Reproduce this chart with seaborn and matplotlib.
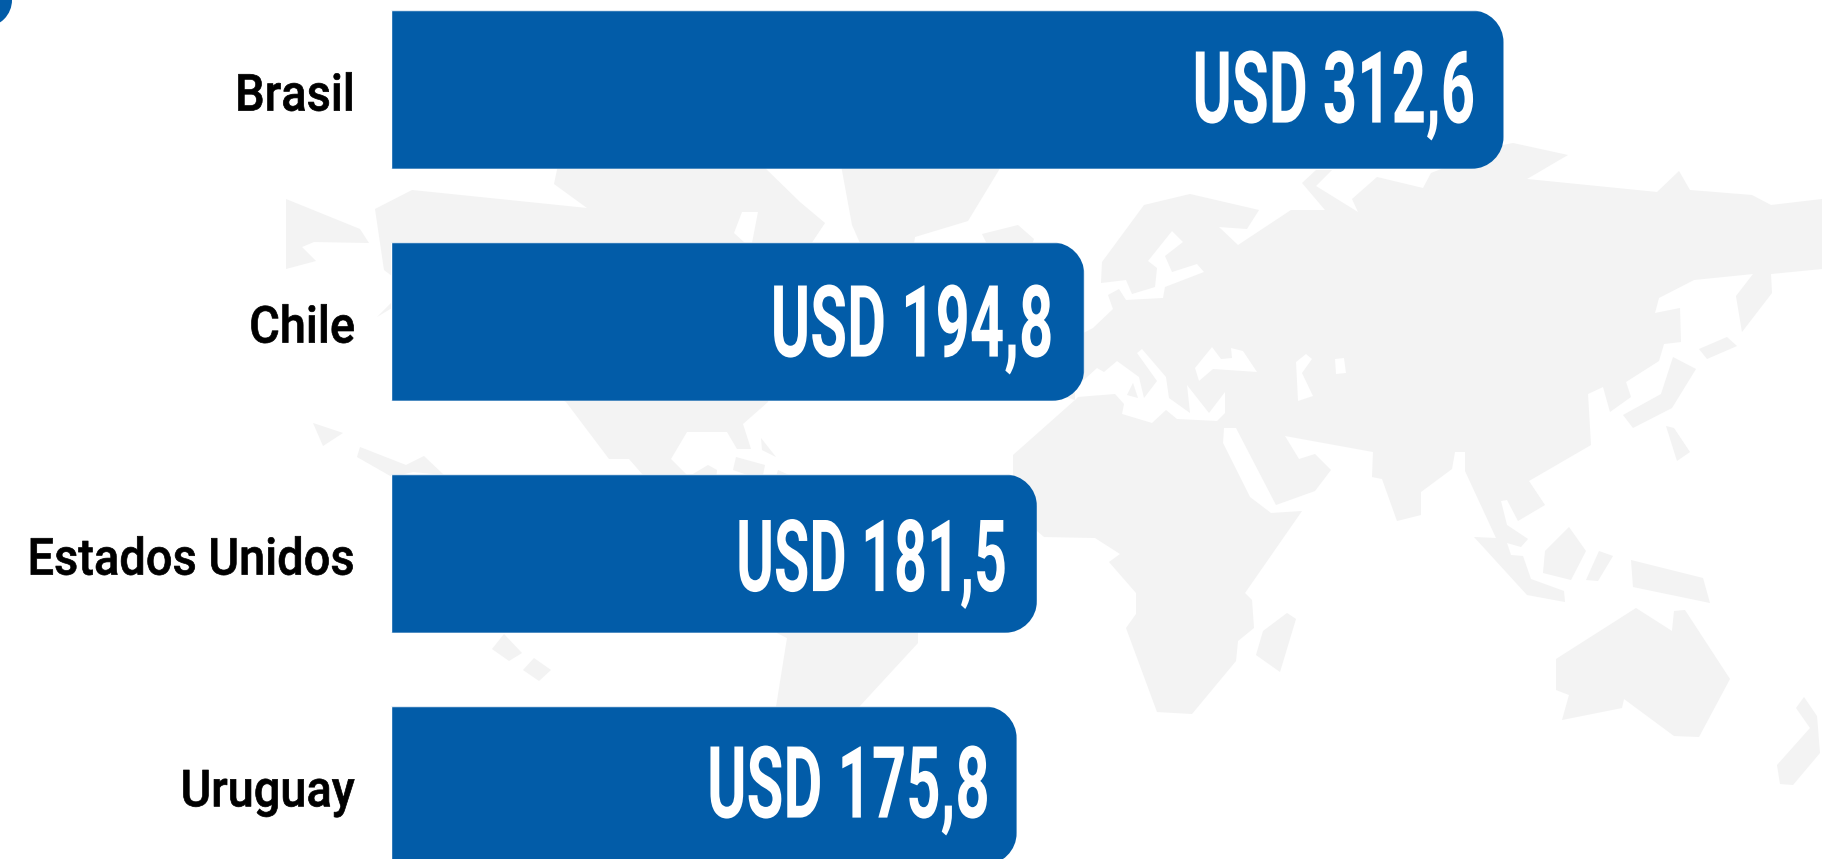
import matplotlib
matplotlib.use('Agg')
import matplotlib.pyplot as plt
import matplotlib.patheffects as pe
import pandas as pd
import seaborn as sns
from matplotlib.patches import Ellipse, Polygon
from matplotlib.path import Path
from matplotlib.transforms import Affine2D

# values
countries = ['Brasil', 'Chile', 'Estados Unidos', 'Uruguay']
values = [312.6, 194.8, 181.5, 175.8]

BLUE = '#025ca8'
MAP_GREY = '#f3f3f3'
W, H = 1836, 859
BAR_LEFT = 391
PX_PER_USD = 3.559
PX_PER_CAT = 232
FIRST_CENTER = 89.6
CORNER = 32

# label placement inside each bar, image pixels
label_right_gap = [28.6, 31, 30, 27]
label_drop = [33, 35, 37.5, 32]
label_squeeze = [0.60, 0.60, 0.575, 0.60]

# background world map, in image pixels
map_land = [
    # alaska
    [(286, 199), (360, 229), (369, 243), (314, 242), (302, 247), (316, 261), (286, 269)],
    # north america
    [(375, 209), (412, 190), (587, 208), (554, 184), (558, 165), (762, 165), (800, 202), (825, 223),
     (807, 250), (768, 402), (743, 424), (751, 449), (737, 449), (727, 432), (687, 432), (671, 459),
     (687, 475), (693, 474), (708, 465), (717, 470), (716, 480), (650, 480), (643, 475), (629, 459),
     (609, 459), (566, 402), (400, 300), (392, 276), (384, 270)],
    # greenland, iceland
    [(841, 165), (1002, 165), (968, 221), (915, 237), (913, 250), (863, 250), (852, 225)],
    [(982, 234), (1018, 225), (1034, 239), (1030, 250), (990, 250)],
    # pacific and caribbean islands
    [(377, 317), (392, 302), (392, 308)],
    [(313, 423), (343, 433), (323, 446)],
    [(360, 447), (406, 465), (424, 456), (444, 475), (413, 472), (392, 477), (357, 457)],
    [(504, 634), (522, 653), (509, 661), (492, 649)],
    [(534, 658), (551, 670), (539, 681), (523, 670)],
    [(761, 438), (776, 457), (762, 450)],
    [(736, 457), (765, 465), (762, 480), (733, 470)],
    # south america
    [(775, 480), (778, 470), (800, 480), (918, 600), (918, 643), (859, 707), (800, 760), (776, 707),
     (787, 638), (777, 633)],
    # eurasia and africa
    [(1093, 328), (1113, 309), (1108, 295), (1119, 289), (1126, 300), (1163, 298), (1165, 287),
     (1204, 272), (1197, 264), (1172, 272), (1165, 256), (1183, 242), (1172, 231), (1148, 261),
     (1157, 268), (1155, 287), (1132, 294), (1126, 280), (1101, 283), (1102, 262), (1144, 205),
     (1190, 194), (1259, 210), (1247, 229), (1219, 227), (1238, 245), (1291, 210), (1325, 210),
     (1302, 183), (1316, 170), (1332, 170), (1316, 186), (1358, 212), (1352, 199), (1377, 177),
     (1423, 188), (1431, 173), (1503, 145), (1513, 143), (1568, 155), (1527, 179), (1657, 192),
     (1679, 171), (1690, 190), (1752, 195), (1771, 205), (1822, 199), (1822, 269), (1771, 274),
     (1772, 293), (1742, 332), (1736, 296), (1753, 274), (1694, 280), (1659, 298), (1655, 313),
     (1680, 308), (1681, 342), (1664, 344), (1659, 361), (1626, 382), (1631, 397), (1610, 412),
     (1603, 387), (1588, 394), (1591, 445), (1529, 481), (1545, 505), (1518, 521), (1507, 500),
     (1501, 501), (1507, 525), (1528, 539), (1521, 547), (1507, 543), (1511, 555), (1523, 556),
     (1531, 579), (1564, 591), (1565, 602), (1527, 595), (1474, 537), (1496, 538), (1465, 471),
     (1465, 452), (1455, 452), (1452, 469), (1421, 492), (1421, 515), (1397, 521), (1382, 479),
     (1372, 477), (1373, 452), (1285, 436), (1299, 459), (1315, 454), (1331, 470), (1315, 491),
     (1276, 505), (1236, 428), (1224, 428), (1223, 443), (1250, 497), (1271, 513), (1302, 511),
     (1245, 593), (1252, 600), (1254, 628), (1238, 641), (1236, 661), (1192, 714), (1157, 712),
     (1126, 628), (1136, 614), (1136, 593), (1109, 562), (1120, 554), (1095, 538), (1044, 537),
     (1037, 531), (1013, 500), (1013, 455), (1075, 400), (1060, 395), (1070, 340)],
    # asia islands, australia, new zealand, madagascar
    [(1699, 349), (1727, 337), (1737, 346), (1707, 359)],
    [(1673, 357), (1696, 369), (1672, 408), (1633, 428), (1623, 415), (1661, 394)],
    [(1666, 426), (1674, 428), (1690, 452), (1677, 461)],
    [(1569, 527), (1586, 551), (1571, 580), (1543, 573), (1545, 551)],
    [(1599, 551), (1613, 556), (1598, 581), (1586, 580)],
    [(1631, 560), (1703, 578), (1710, 603), (1633, 587)],
    [(1636, 608), (1672, 631), (1674, 611), (1685, 610), (1730, 679), (1699, 737), (1674, 736),
     (1624, 699), (1622, 708), (1562, 720), (1569, 695), (1556, 690), (1556, 659)],
    [(1804, 697), (1817, 716), (1820, 753), (1793, 785), (1780, 784), (1777, 765), (1810, 728),
     (1796, 708)],
    [(1287, 613), (1296, 619), (1280, 672), (1256, 655), (1263, 631)],
]
map_water = [
    # hudson bay
    [(742, 212), (758, 212), (752, 243), (745, 243), (734, 233)],
    # mediterranean
    [(1075, 400), (1078, 397), (1115, 394), (1124, 404), (1122, 414), (1152, 423), (1166, 410),
     (1177, 419), (1217, 421), (1225, 413), (1225, 392), (1209, 413), (1187, 385), (1190, 413),
     (1169, 398), (1166, 377), (1142, 349), (1137, 353), (1157, 381), (1144, 398), (1139, 377),
     (1117, 361), (1104, 372), (1097, 368), (1075, 388)],
    # black sea, caspian, aral
    [(1195, 368), (1212, 347), (1221, 359), (1232, 358), (1231, 348), (1243, 351), (1257, 372),
     (1213, 369), (1199, 381)],
    [(1296, 362), (1306, 354), (1312, 359), (1302, 373), (1313, 396), (1298, 401)],
    [(1335, 359), (1344, 358), (1346, 373), (1336, 374)],
]
map_inner_land = [[(1127, 395), (1133, 383), (1138, 398)]]


class Squeeze(pe.AbstractPathEffect):
    # narrows the glyphs around a fixed x, matplotlib has no condensed text
    def __init__(self, sx, x0, dy=0, lw=0):
        super().__init__()
        self.sx = sx
        self.x0 = x0
        self.dy = dy
        self.lw = lw

    def draw_path(self, renderer, gc, tpath, affine, rgbFace=None):
        squeeze = Affine2D().translate(-self.x0, 0).scale(self.sx, 1).translate(self.x0, self.dy)
        gc.set_linewidth(self.lw)
        renderer.draw_path(gc, tpath, affine + squeeze, rgbFace)


sns.set_theme(style='white')
plt.rcParams['font.family'] = ['Roboto', 'DejaVu Sans']

fig = plt.figure(figsize=(W / 100, H / 100), dpi=100, facecolor='white')

bg = fig.add_axes([0, 0, 1, 1], zorder=0)
bg.set_xlim(0, W)
bg.set_ylim(H, 0)
bg.axis('off')
for shape in map_land:
    bg.add_patch(Polygon(shape, closed=True, fc=MAP_GREY, ec='none'))
for shape in map_water:
    bg.add_patch(Polygon(shape, closed=True, fc='white', ec='none'))
for shape in map_inner_land:
    bg.add_patch(Polygon(shape, closed=True, fc=MAP_GREY, ec='none'))
# corner of the bar cropped off above the picture
bg.add_patch(Ellipse((-15, 0), 54, 54, fc=BLUE, ec='none'))

ax = fig.add_axes([BAR_LEFT / W, 0, 1 - BAR_LEFT / W, 1], zorder=1)
ax.patch.set_alpha(0)

data = pd.DataFrame({'country': countries, 'value': values})
sns.barplot(data=data, x='value', y='country', color=BLUE, saturation=1, width=0.683, ax=ax)

ax.set_xlim(0, (W - BAR_LEFT) / PX_PER_USD)
ax.set_ylim((H - FIRST_CENTER) / PX_PER_CAT, -FIRST_CENTER / PX_PER_CAT)
ax.set_xlabel('')
ax.set_ylabel('')
ax.set_xticks([])
sns.despine(ax=ax, left=True, bottom=True)
ax.tick_params(axis='y', length=0, pad=26)
for label in ax.get_yticklabels():
    label.set_fontsize(36.8)
    label.set_fontweight('medium')
    label.set_color('black')

# rounded right corners, circular arcs
rx = CORNER / PX_PER_USD
ry = CORNER / PX_PER_CAT
k = 0.448
for bar in ax.containers[0]:
    x0, x1 = bar.get_x(), bar.get_x() + bar.get_width()
    y0, y1 = bar.get_y(), bar.get_y() + bar.get_height()
    verts = [(x0, y0), (x1 - rx, y0),
             (x1 - rx * k, y0), (x1, y0 + ry * k), (x1, y0 + ry),
             (x1, y1 - ry),
             (x1, y1 - ry * k), (x1 - rx * k, y1), (x1 - rx, y1),
             (x0, y1), (x0, y0)]
    codes = [Path.MOVETO, Path.LINETO,
             Path.CURVE4, Path.CURVE4, Path.CURVE4,
             Path.LINETO,
             Path.CURVE4, Path.CURVE4, Path.CURVE4,
             Path.LINETO, Path.CLOSEPOLY]
    bar.set_clip_path(Path(verts, codes), ax.transData)

value_labels = ['USD ' + f'{v:.1f}'.replace('.', ',') for v in values]
anns = ax.bar_label(ax.containers[0], labels=value_labels, color='white',
                    fontsize=72, fontweight='bold')
for a, gap, drop in zip(anns, label_right_gap, label_drop):
    a.set_ha('right')
    a.set_va('baseline')
    a.xyann = (-gap * 0.72, -drop * 0.72)

fig.canvas.draw()
renderer = fig.canvas.get_renderer()
for a, sx in zip(anns, label_squeeze):
    a.set_path_effects([Squeeze(sx, a.get_window_extent(renderer).x1)])
for label in ax.get_yticklabels():
    label.set_path_effects([Squeeze(0.918, label.get_window_extent(renderer).x1, dy=-1.5, lw=0.5)])

fig.savefig('out.png', dpi=100, facecolor='white')
